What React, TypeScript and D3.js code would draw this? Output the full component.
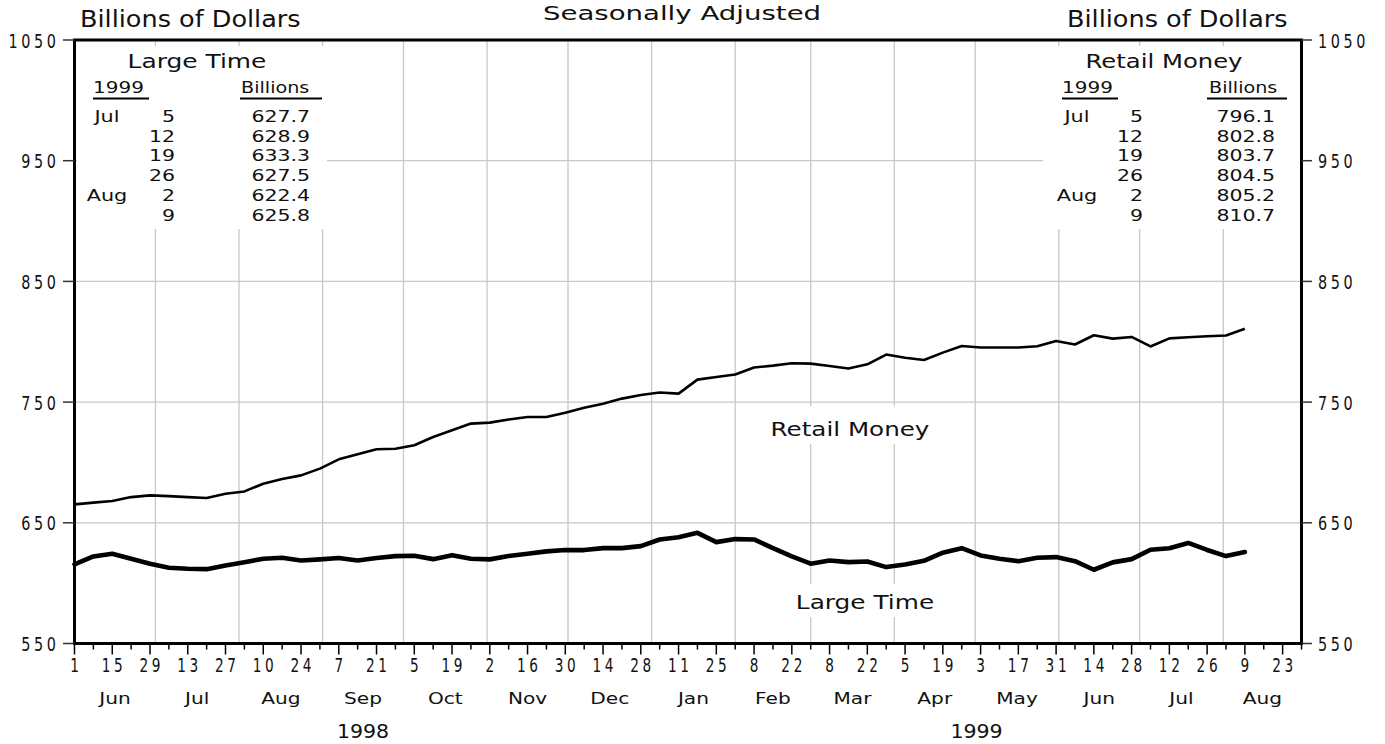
import React from "react";
import * as d3 from "d3";

// ---------- data ----------
const firstWeek = new Date(1998, 5, 1);
const lastWeek = new Date(1999, 7, 9);
const weekDates: Date[] = d3.timeMonday.range(firstWeek, d3.timeDay.offset(lastWeek, 1));

const retailMoney = [
  665.3, 666.7, 668.0, 671.3, 672.7, 672.1, 671.3, 670.5, 674.1, 676.0,
  682.4, 686.3, 689.3, 694.9, 702.6, 706.7, 710.9, 711.4, 714.2, 721.1,
  726.6, 732.2, 733.0, 735.6, 737.6, 737.6, 741.2, 745.4, 748.7, 752.9,
  755.9, 757.9, 757.0, 768.6, 770.8, 772.8, 778.6, 780.2, 782.2, 781.9,
  779.9, 777.8, 781.3, 789.4, 786.8, 784.9, 791.0, 796.5, 795.2, 795.2,
  795.2, 796.3, 800.7, 797.7, 805.4, 802.6, 804.0, 796.1, 802.8, 803.7,
  804.5, 805.2, 810.7,
];

const largeTime = [
  615.5, 622.1, 624.4, 620.2, 616.1, 612.8, 611.9, 611.6, 614.7, 617.4,
  620.2, 621.0, 618.8, 619.7, 620.8, 618.8, 620.8, 622.4, 622.7, 619.9,
  623.2, 620.2, 619.7, 622.5, 624.4, 626.3, 627.4, 627.4, 629.0, 629.0,
  630.7, 636.2, 638.1, 641.7, 634.0, 636.5, 636.2, 629.0, 622.1, 616.1,
  618.8, 617.4, 618.0, 613.3, 615.5, 618.5, 625.2, 629.0, 623.0, 620.2,
  618.2, 621.0, 621.6, 618.2, 611.1, 617.2, 619.9, 627.7, 628.9, 633.3,
  627.5, 622.4, 625.8,
];

const yTicks = [550, 650, 750, 850, 950, 1050];
const yGrid = [650, 750, 850, 950];
const tableMonths = ["Jul", "", "", "", "Aug", ""];
const tableDays = ["5", "12", "19", "26", "2", "9"];
const tableYear = "1999";
const axisStart = new Date(1998, 5, 1);
const axisEnd = new Date(1999, 7, 30);
const years = [
  { label: "1998", from: new Date(1998, 5, 1), to: new Date(1999, 0, 1) },
  { label: "1999", from: new Date(1999, 0, 1), to: new Date(1999, 7, 30) },
];

// ---------- styles ----------
const FONT = "'DejaVu Sans', 'Liberation Sans', sans-serif";
const W = 1385;
const H = 744;

type TP = {
  x: number; y: number; size: number; sx?: number; anchor?: "start" | "middle" | "end";
  ls?: number; children: React.ReactNode;
};
function T({ x, y, size, sx = 1, anchor = "start", ls = 0, children }: TP) {
  const dx = anchor === "end" ? ls : anchor === "middle" ? ls / 2 : 0;
  return (
    <text
      transform={`translate(${x},${y}) scale(${sx},1)`}
      fontSize={size}
      fontFamily={FONT}
      textAnchor={anchor}
      letterSpacing={ls}
      dx={dx}
      fill="#111"
    >
      {children}
    </text>
  );
}

export default function App() {
  const x = d3.scaleTime().domain([axisStart, axisEnd]).range([74.5, 1301.5]);
  const y = d3.scaleLinear().domain([550, 1050]).range([643.5, 40]);

  const line = d3
    .line<number>()
    .x((_, i) => x(weekDates[i]))
    .y((d) => y(d))
    .curve(d3.curveLinear);

  const weekTicks = d3.timeMonday.range(axisStart, d3.timeDay.offset(axisEnd, 1));
  const monthStarts = d3.timeMonth.range(new Date(1998, 6, 1), new Date(1999, 7, 2));
  const months = d3.timeMonth.range(new Date(1998, 5, 1), new Date(1999, 7, 2));

  const left = x.range()[0];
  const right = x.range()[1];
  const top = y(1050);
  const bottom = y(550);

  const rowY = (k: number) => 122 + k * 19.7;

  const table = (
    title: string,
    values: number[],
    o: { titleX: number; yearX: number; yearU: [number, number]; billX: number; billU: [number, number]; monX: number; dayX: number; valX: number; tsx: number }
  ) => (
    <g>
      <T x={o.titleX} y={68} size={19} sx={o.tsx} anchor="middle">{title}</T>
      <T x={o.yearX} y={93} size={16} sx={1.25}>{tableYear}</T>
      <line x1={o.yearU[0]} x2={o.yearU[1]} y1={98.5} y2={98.5} stroke="#000" strokeWidth={2} />
      <T x={o.billX} y={93} size={16} sx={1.2}>Billions</T>
      <line x1={o.billU[0]} x2={o.billU[1]} y1={98.5} y2={98.5} stroke="#000" strokeWidth={2} />
      {values.map((v, k) => (
        <g key={k}>
          {tableMonths[k] && <T x={o.monX} y={rowY(k)} size={16} sx={1.3} anchor="middle">{tableMonths[k]}</T>}
          <T x={o.dayX} y={rowY(k)} size={16} sx={1.28} anchor="end">{tableDays[k]}</T>
          <T x={o.valX} y={rowY(k)} size={16} sx={1.28} anchor="end">{v.toFixed(1)}</T>
        </g>
      ))}
    </g>
  );

  return (
    <svg width={W} height={H} style={{ position: "absolute", left: 0, top: 0, background: "#fff" }}>
      <rect x={0} y={0} width={W} height={H} fill="#fff" />
      {/* grid */}
      {yGrid.map((v) => (
        <line key={v} x1={left} x2={right} y1={y(v)} y2={y(v)} stroke="#c8c8c8" strokeWidth={1.3} />
      ))}
      {monthStarts.map((d, i) => (
        <line key={i} x1={x(d)} x2={x(d)} y1={top} y2={bottom} stroke="#c8c8c8" strokeWidth={1.3} />
      ))}
      {/* white boxes behind texts */}
      <rect x={77} y={46} width={250} height={183} fill="#fff" />
      <rect x={1043} y={46} width={257} height={183} fill="#fff" />
      <rect x={765} y={406} width={170} height={38} fill="#fff" />
      <rect x={790} y={584} width={150} height={33} fill="#fff" />

      {/* series */}
      <path d={line(retailMoney) || ""} fill="none" stroke="#000" strokeWidth={2.6} strokeLinejoin="round" />
      <path d={line(largeTime) || ""} fill="none" stroke="#000" strokeWidth={4.6} strokeLinejoin="round" strokeLinecap="round" />

      {/* frame */}
      <rect x={left} y={top} width={right - left} height={bottom - top} fill="none" stroke="#000" strokeWidth={3} />

      {/* y ticks & labels */}
      {yTicks.map((v) => (
        <g key={v}>
          <line x1={63} x2={left} y1={y(v)} y2={y(v)} stroke="#333" strokeWidth={1.5} />
          <line x1={right} x2={1312} y1={y(v)} y2={y(v)} stroke="#333" strokeWidth={1.5} />
          <T x={56} y={y(v) + 7.5} size={20} sx={0.72} ls={5} anchor="end">{String(v)}</T>
          <T x={1318} y={y(v) + 7.5} size={20} sx={0.72} ls={5}>{String(v)}</T>
        </g>
      ))}

      {/* x ticks & labels */}
      {weekTicks.map((d, i) => (
        <g key={i}>
          <line x1={x(d)} x2={x(d)} y1={bottom} y2={bottom + (i % 2 === 0 ? 11 : 6)} stroke="#000" strokeWidth={1.5} />
          {i % 2 === 0 && i < weekTicks.length - 1 && (
            <T x={x(d)} y={672} size={19} sx={0.72} ls={5} anchor="middle">{String(d.getDate())}</T>
          )}
        </g>
      ))}
      {months.map((m, i) => {
        const next = d3.timeMonth.offset(m, 1);
        const end = next > axisEnd ? axisEnd : next;
        const cx = (x(m) + x(end)) / 2;
        return (
          <T key={i} x={cx} y={704} size={15.5} sx={1.3} anchor="middle">{d3.timeFormat("%b")(m)}</T>
        );
      })}
      {years.map((yr) => (
        <T key={yr.label} x={(x(yr.from) + x(yr.to)) / 2} y={738} size={19} sx={1.08} anchor="middle">{yr.label}</T>
      ))}

      {/* headers */}
      <T x={682} y={20} size={20} sx={1.38} anchor="middle">Seasonally Adjusted</T>
      <T x={80} y={27} size={23} sx={1.11}>Billions of Dollars</T>
      <T x={1067} y={27} size={23} sx={1.11}>Billions of Dollars</T>

      {/* tables */}
      {table("Large Time", largeTime.slice(-6), {
        titleX: 197, yearX: 93, yearU: [93, 149], billX: 241, billU: [240, 322], monX: 107, dayX: 175, valX: 310, tsx: 1.31,
      })}
      {table("Retail Money", retailMoney.slice(-6), {
        titleX: 1164, yearX: 1062, yearU: [1062, 1118], billX: 1209, billU: [1207, 1287], monX: 1077, dayX: 1143, valX: 1275, tsx: 1.28,
      })}

      {/* in-plot labels */}
      <T x={850} y={436} size={20} sx={1.23} anchor="middle">Retail Money</T>
      <T x={865} y={609} size={20} sx={1.24} anchor="middle">Large Time</T>
    </svg>
  );
}
